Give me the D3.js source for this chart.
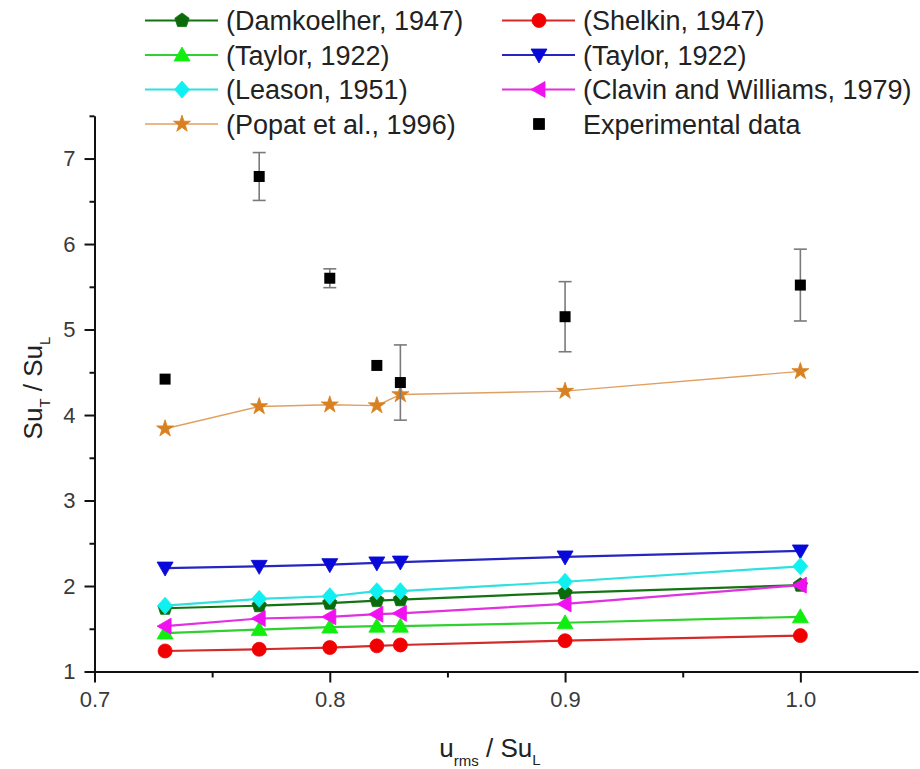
<!DOCTYPE html>
<html><head><meta charset="utf-8">
<script src="https://cdn.jsdelivr.net/npm/d3@7"></script>
<style>body{margin:0;background:#fff}svg{display:block}text{font-family:"Liberation Sans",Arial,sans-serif}</style>
</head><body><svg id="c" width="920" height="769"></svg>
<script>
const xVals = [0.73, 0.77, 0.80, 0.82, 0.83, 0.90, 1.00];
const damkoelher = [1.74, 1.77, 1.80, 1.83, 1.84, 1.92, 2.01];
const shelkin = [1.24, 1.26, 1.28, 1.30, 1.31, 1.36, 1.42];
const taylorGreen = [1.45, 1.49, 1.52, 1.53, 1.53, 1.57, 1.64];
const taylorBlue = [2.21, 2.23, 2.25, 2.27, 2.28, 2.34, 2.41];
const leason = [1.77, 1.85, 1.88, 1.94, 1.94, 2.05, 2.23];
const clavin = [1.53, 1.62, 1.64, 1.67, 1.68, 1.79, 2.01];
const popat = [3.84, 4.10, 4.12, 4.11, 4.24, 4.28, 4.51];
const experimental = [4.42, 6.79, 5.60, 4.58, 4.38, 5.15, 5.52];
const experimentalErr = [0, 0.28, 0.11, 0, 0.44, 0.41, 0.42];
const xTicks = [0.7, 0.8, 0.9, 1.0];
const xMinorTicks = [0.75, 0.85, 0.95];
const yTicks = [1, 2, 3, 4, 5, 6, 7];
const yMinorTicks = [1.5, 2.5, 3.5, 4.5, 5.5, 6.5, 7.5];

const series = [
  {name:"(Damkoelher, 1947)", values:damkoelher, line:"#137313", fill:"#0b6b0b", shape:"pentagon"},
  {name:"(Shelkin, 1947)", values:shelkin, line:"#d42a2a", fill:"#f00000", shape:"circle"},
  {name:"(Taylor, 1922)", values:taylorGreen, line:"#30d030", fill:"#10ee10", shape:"up"},
  {name:"(Taylor, 1922)", values:taylorBlue, line:"#2525c0", fill:"#0808d8", shape:"down"},
  {name:"(Leason, 1951)", values:leason, line:"#30e0e0", fill:"#10f0f0", shape:"diamond"},
  {name:"(Clavin and Williams, 1979)", values:clavin, line:"#e030e0", fill:"#f010f0", shape:"left"},
  {name:"(Popat et al., 1996)", values:popat, line:"#e0a060", fill:"#d98020", shape:"star", lw:1.4}
];

const svg = d3.select("#c");
const x = d3.scaleLinear().domain([0.7, 1.05]).range([94.5, 918]);
const y = d3.scaleLinear().domain([1, 7.5]).range([671.5, 115.8]);

function shapePath(s){
  const poly = pts => "M" + pts.map(p => p[0].toFixed(2)+","+p[1].toFixed(2)).join("L") + "Z";
  if (s==="circle") return d3.symbol(d3.symbolCircle, Math.PI*49)();
  if (s==="pentagon"){ const r=7.5; return poly(d3.range(5).map(k=>{const a=-Math.PI/2+k*2*Math.PI/5;return [r*Math.cos(a), r*Math.sin(a)];})); }
  if (s==="up") return poly([[0,-8],[8,6],[-8,6]]);
  if (s==="down") return poly([[0,8],[8,-6],[-8,-6]]);
  if (s==="left") return poly([[-8,0],[6,-8],[6,8]]);
  if (s==="diamond") return poly([[0,-8.5],[7.5,0],[0,8.5],[-7.5,0]]);
  if (s==="star") return d3.symbol(d3.symbolStar, 90)();
  if (s==="square") return poly([[-5.5,-5.5],[5.5,-5.5],[5.5,5.5],[-5.5,5.5]]);
}

// axes
const axisG = svg.append("g");
const xAxis = axisG.append("g").attr("transform",`translate(0,${y(1)})`)
  .call(d3.axisBottom(x).tickValues(xTicks).tickFormat(d3.format(".1f")).tickSize(11).tickSizeOuter(0).tickPadding(9));
const xMinor = axisG.append("g").attr("transform",`translate(0,${y(1)})`)
  .call(d3.axisBottom(x).tickValues(xMinorTicks).tickFormat("").tickSize(6).tickSizeOuter(0));
const yAxis = axisG.append("g").attr("transform",`translate(${x(0.7)},0)`)
  .call(d3.axisLeft(y).tickValues(yTicks).tickFormat(d3.format("d")).tickSize(10).tickSizeOuter(0).tickPadding(9));
const yMinor = axisG.append("g").attr("transform",`translate(${x(0.7)},0)`)
  .call(d3.axisLeft(y).tickValues(yMinorTicks).tickFormat("").tickSize(5).tickSizeOuter(0));
axisG.selectAll(".domain").attr("stroke","#111").attr("stroke-width",2);
axisG.selectAll(".tick line").attr("stroke","#111").attr("stroke-width",2);
axisG.selectAll(".tick text").attr("font-size",22).attr("fill","#3a3a3a").attr("font-family","Liberation Sans, Arial, sans-serif");
xMinor.select(".domain").remove(); yMinor.select(".domain").remove();

// axis titles
const xt = svg.append("text").attr("x",490).attr("y",757).attr("text-anchor","middle").attr("font-size",26).attr("fill","#222");
xt.append("tspan").text("u");
xt.append("tspan").attr("font-size",15).attr("dy",9).text("rms");
xt.append("tspan").attr("dy",-9).text(" / Su");
xt.append("tspan").attr("font-size",15).attr("dy",8).text("L");
const yt = svg.append("text").attr("transform","translate(42,388) rotate(-90)").attr("text-anchor","middle").attr("font-size",26).attr("fill","#222");
yt.append("tspan").text("Su");
yt.append("tspan").attr("font-size",15).attr("dy",8).text("T");
yt.append("tspan").attr("dy",-8).text(" / Su");
yt.append("tspan").attr("font-size",15).attr("dy",8).text("L");

// series
const plot = svg.append("g");
const line = d3.line().x((d,i)=>x(xVals[i])).y(d=>y(d));
series.forEach(s=>{
  const g = plot.append("g");
  g.append("path").attr("d", line(s.values)).attr("fill","none").attr("stroke",s.line).attr("stroke-width",s.lw||2.2);
  g.selectAll("path.m").data(s.values).join("path").attr("class","m")
    .attr("d", shapePath(s.shape))
    .attr("transform",(d,i)=>`translate(${x(xVals[i])},${y(d)})`)
    .attr("fill",s.fill).attr("stroke",s.fill).attr("stroke-width",0.8);
});
// experimental
const eg = plot.append("g");
experimental.forEach((v,i)=>{
  const e = experimentalErr[i];
  if (e>0){
    const cx = x(xVals[i]);
    eg.append("line").attr("x1",cx).attr("x2",cx).attr("y1",y(v-e)).attr("y2",y(v+e)).attr("stroke","#7a7a7a").attr("stroke-width",1.6);
    [v-e, v+e].forEach(w=>eg.append("line").attr("x1",cx-6.5).attr("x2",cx+6.5).attr("y1",y(w)).attr("y2",y(w)).attr("stroke","#7a7a7a").attr("stroke-width",1.6));
  }
});
eg.selectAll("path.sq").data(experimental).join("path").attr("class","sq")
  .attr("d", shapePath("square")).attr("transform",(d,i)=>`translate(${x(xVals[i])},${y(d)})`).attr("fill","#000");

// legend
const legendItems = [
  {s:series[0], col:0, row:0}, {s:series[1], col:1, row:0},
  {s:series[2], col:0, row:1}, {s:series[3], col:1, row:1},
  {s:series[4], col:0, row:2}, {s:series[5], col:1, row:2},
  {s:series[6], col:0, row:3}, {s:{name:"Experimental data", shape:"square", fill:"#000"}, col:1, row:3}
];
const colX = [145, 502];
const rowY = [20.5, 55, 89.5, 124];
const lg = svg.append("g");
legendItems.forEach(it=>{
  const x0 = colX[it.col], cy = rowY[it.row];
  const g = lg.append("g").attr("transform",`translate(${x0},${cy})`);
  if (it.s.line) g.append("line").attr("x1",0).attr("x2",73).attr("y1",0).attr("y2",0).attr("stroke",it.s.line).attr("stroke-width",it.s.lw||2.2);
  g.append("path").attr("d",shapePath(it.s.shape)).attr("transform","translate(37,0)").attr("fill",it.s.fill).attr("stroke",it.s.fill).attr("stroke-width",0.8);
  g.append("text").attr("x",81).attr("y",0).attr("dy","0.36em").attr("font-size",27).attr("fill","#222").text(it.s.name);
});
</script></body></html>
